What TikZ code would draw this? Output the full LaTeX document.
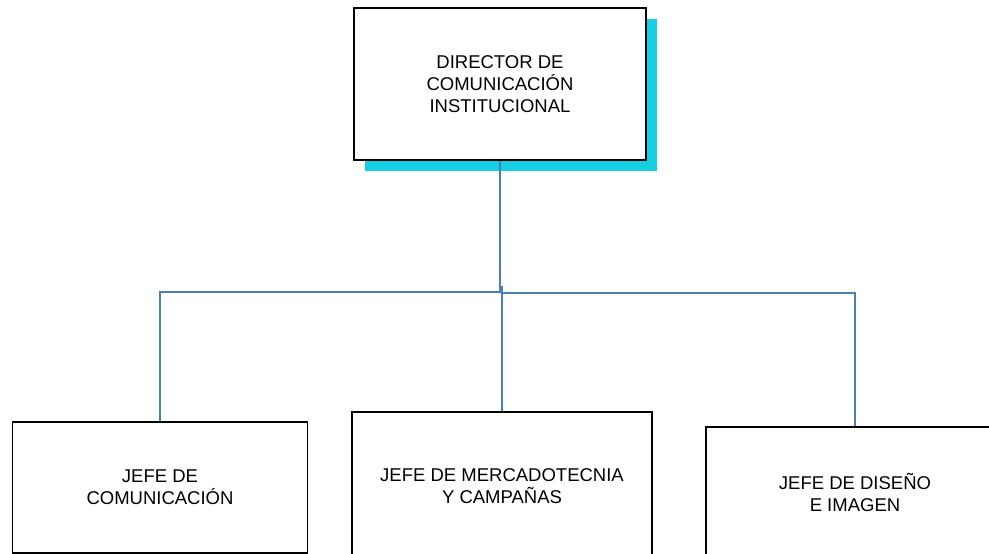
\documentclass[tikz,border=0pt]{standalone}
\usepackage{fontspec}
\setmainfont{Liberation Sans}
\usetikzlibrary{shadows}
\definecolor{linkblue}{RGB}{74,126,187}
\definecolor{shadowcyan}{RGB}{22,207,226}
\newcommand\orgfont{\fontsize{18.5}{22}\selectfont}

\begin{document}
\begin{tikzpicture}[x=1pt, y=-1pt,
  post/.style={draw, line width=1.5pt, fill=white, align=center, font=\orgfont, inner sep=0pt},
  link/.style={draw=linkblue, line width=1.6pt}]
\useasboundingbox (0,0) rectangle (989,554);
\clip (0,0) rectangle (989,554);
\node[post, line width=2pt, minimum width=292pt, minimum height=152pt, drop shadow={shadow xshift=11pt, shadow yshift=-11pt, fill=shadowcyan, opacity=1}](dir) at (500,84) {DIRECTOR DE\\COMUNICACIÓN\\INSTITUCIONAL};
\node[post, minimum width=295pt, minimum height=131pt](jcom) at (160,487.5) {JEFE DE\\COMUNICACIÓN};
\node[post, minimum width=300pt, minimum height=148pt](jmer) at (502,486) {JEFE DE MERCADOTECNIA\\Y CAMPAÑAS};
\node[post, minimum width=298pt, minimum height=130pt](jdis) at (855,492) {JEFE DE DISEÑO\\E IMAGEN};
\coordinate (hubL) at (500,292);
\coordinate (hubR) at (502,293);
\coordinate (hubM) at (502,286);
\draw[link] (dir.south) -- (hubL) -| (jcom.north);
\draw[link] (hubR) -| (jdis.north);
\draw[link] (hubM) -- (jmer.north);
\end{tikzpicture}
\end{document}
